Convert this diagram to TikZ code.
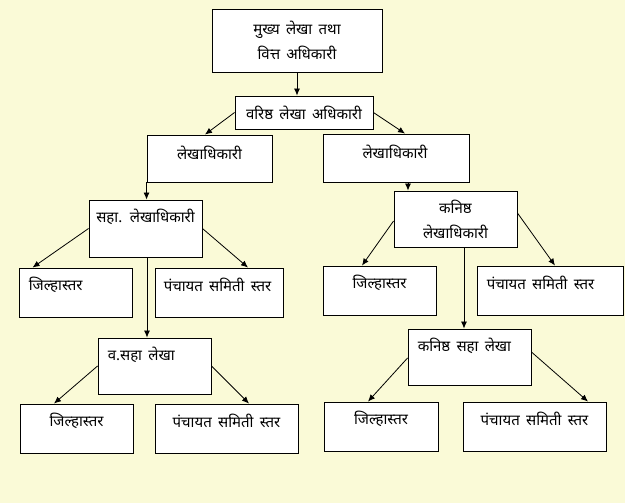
\documentclass[tikz,border=0pt]{standalone}
\usepackage{fontspec}
\newfontfamily\dev[Script=Devanagari, WordSpace=1.6]{Noto Sans}
\usetikzlibrary{calc, arrows.meta}
\definecolor{pagebg}{RGB}{250,250,215}

\begin{document}
\begin{tikzpicture}[
  x=1pt, y=-1pt,
  box/.style={draw, fill=white, line width=0.9pt, inner sep=0pt},
  txt/.style={font=\dev\fontsize{15}{25}\selectfont, inner sep=0pt, align=center},
  link/.style={-{Latex[length=7pt,width=6pt]}, line width=0.8pt}
]

% Page background
\fill[pagebg] (0,0) rectangle (625,503);
\useasboundingbox (0,0) rectangle (625,503);

% Top levels
\node[box, txt, minimum width=170, minimum height=63] (a) at (297,40.5) {मुख्य लेखा तथा\\वित्त अधिकारी};
\node[box, txt, minimum width=138, minimum height=33] (b) at (304,112.5) {वरिष्ठ लेखा अधिकारी};
\node[box, minimum width=125, minimum height=47] (c1) at (209.5,158.5) {};
\node[box, minimum width=146, minimum height=48] (c2) at (396,158) {};

% Left branch
\node[box, minimum width=113, minimum height=57] (d1) at (145.5,228.5) {};
\node[box, minimum width=113, minimum height=49] (e1) at (75.5,292.5) {};
\node[box, minimum width=128, minimum height=49] (e2) at (219,292.5) {};
\node[box, minimum width=113, minimum height=56] (f1) at (154.5,366) {};
\node[box, minimum width=113, minimum height=49] (g1) at (76.5,428.5) {};
\node[box, minimum width=143, minimum height=49] (g2) at (226.5,428.5) {};

% Right branch
\node[box, txt, minimum width=123, minimum height=56] (d2) at (455.5,219) {कनिष्ठ\\लेखाधिकारी};
\node[box, minimum width=113, minimum height=49] (e3) at (379.5,290.5) {};
\node[box, minimum width=146, minimum height=49] (e4) at (550,290.5) {};
\node[box, minimum width=123, minimum height=56] (h) at (469.5,357) {};
\node[box, minimum width=114, minimum height=49] (g3) at (381,426.5) {};
\node[box, minimum width=143, minimum height=49] (g4) at (534.5,426.5) {};

% Box texts
\node[txt] (c1t) at ($(c1.north)+(0,18)$) {लेखाधिकारी};
\node[txt] (c2t) at ($(c2.north)+(-1,18)$) {लेखाधिकारी};
\node[txt] (d1t) at ($(d1.north)+(0,17)$) {सहा. लेखाधिकारी};
\node[txt, anchor=west] (e1t) at ($(e1.north west)+(10,17)$) {जिल्हास्तर};
\node[txt, anchor=west] (e2t) at ($(e2.north west)+(9,17)$) {पंचायत समिती स्तर};
\node[txt, anchor=west] (f1t) at ($(f1.north west)+(10,17)$) {व.सहा लेखा};
\node[txt] (g1t) at ($(g1.north)+(0,17)$) {जिल्हास्तर};
\node[txt] (g2t) at ($(g2.north)+(0,17)$) {पंचायत समिती स्तर};
\node[txt] (e3t) at ($(e3.north)+(0,17)$) {जिल्हास्तर};
\node[txt, anchor=west] (e4t) at ($(e4.north west)+(10,17)$) {पंचायत समिती स्तर};
\node[txt, anchor=west] (ht) at ($(h.north west)+(10,17)$) {कनिष्ठ सहा लेखा};
\node[txt] (g3t) at ($(g3.north)+(0,17)$) {जिल्हास्तर};
\node[txt] (g4t) at ($(g4.north)+(0,17)$) {पंचायत समिती स्तर};

% Connectors
\draw[link] (a.south) -- (a.south |- b.north);
\draw[link] (b.west) -- ([xshift=-4.5pt]c1.north);
\draw[link] (b.east) -- ([xshift=9pt]c2.north);
\draw[link] (c1.south west) -- (c1.south west |- d1.north);
\draw[link] (d1.west) -- ([xshift=14pt]e1.north west);
\draw[link] (d1.east) -- ([xshift=29pt]e2.north);
\draw[link] ([xshift=1.5pt]d1.south) -- ([xshift=1.5pt]d1.south |- f1.north);
\draw[link] (f1.west) -- ([xshift=-22.5pt]g1.north);
\draw[link] (f1.east) -- ([xshift=22.5pt]g2.north);
\draw[link] ([xshift=12pt]c2.south) -- ([xshift=12pt]c2.south |- d2.north);
\draw[link] ([yshift=-2pt]d2.west) -- ([xshift=-17.5pt]e3.north);
\draw[link] ([yshift=6pt]d2.east) -- ([xshift=5pt]e4.north);
\draw[link] ([xshift=8.5pt]d2.south) -- ([xshift=8.5pt]d2.south |- h.north);
\draw[link] ([yshift=-1pt]h.west) -- ([xshift=-13pt]g3.north);
\draw[link] ([yshift=5pt]h.east) -- ([xshift=53.5pt]g4.north);

\end{tikzpicture}
\end{document}
